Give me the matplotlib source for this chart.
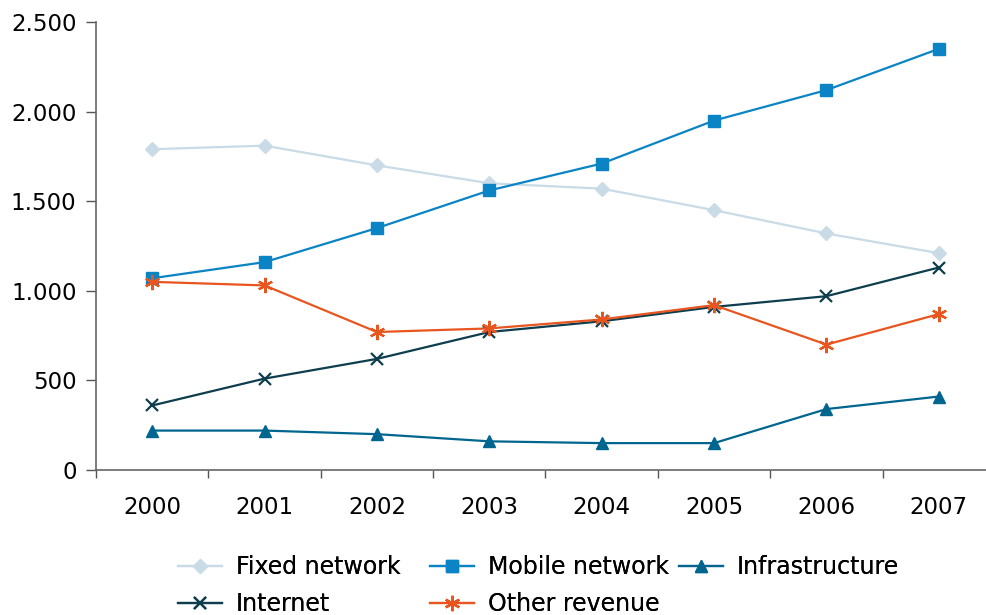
import matplotlib
matplotlib.use("Agg")
import matplotlib.pyplot as plt
from matplotlib.ticker import FixedLocator, FuncFormatter

years = ["2000", "2001", "2002", "2003", "2004", "2005", "2006", "2007"]
fixed_network = [1790, 1810, 1700, 1600, 1570, 1450, 1320, 1210]
mobile_network = [1070, 1160, 1350, 1560, 1710, 1950, 2120, 2350]
infrastructure = [220, 220, 200, 160, 150, 150, 340, 410]
internet = [360, 510, 620, 770, 830, 910, 970, 1130]
other_revenue = [1050, 1030, 770, 790, 840, 920, 700, 870]

plt.rcParams["font.family"] = ["DejaVu Sans"]

W, H = 986, 615
fig = plt.figure(figsize=(W / 100, H / 100), dpi=100)
ax = fig.add_axes([96 / W, 1 - 470 / H, 1 - 96 / W, (470 - 22) / H])

x = list(range(len(years)))
lw = 1.6
h_fixed, = ax.plot(x, fixed_network, color="#c8dbe6", lw=lw, marker="D", ms=7,
                   label="Fixed network")
h_mobile, = ax.plot(x, mobile_network, color="#0a84c4", lw=lw, marker="s", ms=8,
                    label="Mobile network")
h_infra, = ax.plot(x, infrastructure, color="#00668f", lw=lw, marker="^", ms=9,
                   label="Infrastructure")
h_net, = ax.plot(x, internet, color="#0e3e4e", lw=lw, marker="x", ms=9, mew=1.6,
                 label="Internet")
h_other, = ax.plot(x, other_revenue, color="#e8551e", lw=lw, marker=(6, 2, 0), ms=11,
                   mew=1.6, label="Other revenue")

ax.set_ylim(0, 2500)
ax.set_xlim(-0.5, 7.42)
ax.set_yticks(range(0, 2501, 500))
ax.yaxis.set_major_formatter(FuncFormatter(lambda v, p: f"{int(v):,}".replace(",", ".")))
ax.set_xticks(x)
ax.set_xticklabels(years)
ax.xaxis.set_minor_locator(FixedLocator([i - 0.5 for i in range(len(years) + 1)]))
ax.tick_params(axis="x", which="major", length=0, pad=19, labelsize=16.5)
ax.tick_params(axis="x", which="minor", length=6, width=1, color="#555555", direction="out")
ax.tick_params(axis="y", which="major", length=7, width=1, color="#555555",
               direction="out", pad=7, labelsize=16.5)

for side in ("top", "right"):
    ax.spines[side].set_visible(False)
for side in ("left", "bottom"):
    ax.spines[side].set_color("#666666")
    ax.spines[side].set_linewidth(1.2)

# legend laid out as three fixed columns
columns = [
    ([h_fixed, h_net], 178),
    ([h_mobile, h_other], 430),
    ([h_infra], 679),
]
for hs, left in columns:
    leg = fig.legend(handles=hs, labels=[h.get_label() for h in hs], ncol=1,
                     loc="upper left", bbox_to_anchor=(left / W, 1 - 555 / H),
                     frameon=False, fontsize=17, handlelength=1.85, handletextpad=0.6,
                     labelspacing=0.55, borderaxespad=0, borderpad=0)
    fig.add_artist(leg)

fig.savefig("out.png", dpi=100)
